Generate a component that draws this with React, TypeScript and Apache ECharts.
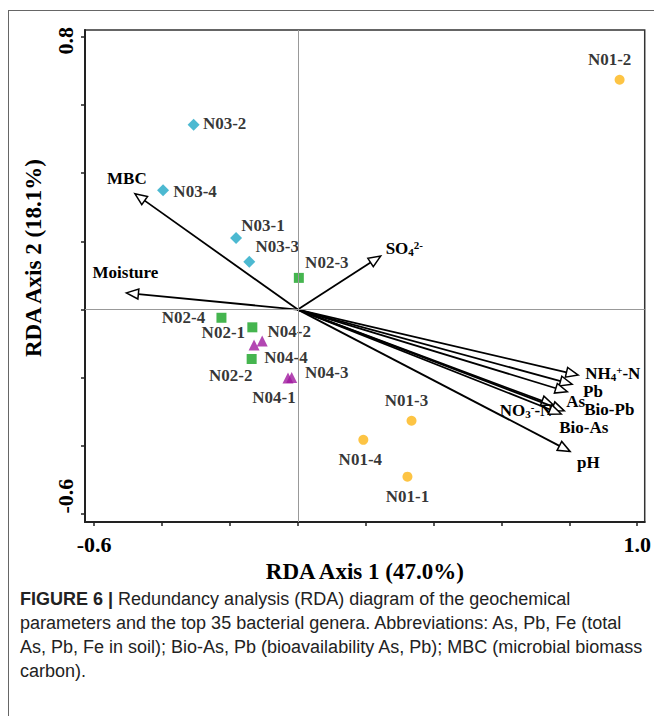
import React, { useEffect, useRef } from 'react';
import * as echarts from 'echarts';

// ---- axis ticks / titles ----
const xTicks = [-0.6, -0.4, -0.2, 0, 0.2, 0.4, 0.6, 0.8, 1.0];
const yTicks = [-0.6, -0.4, -0.2, 0, 0.2, 0.4, 0.6, 0.8];
const xTickLabels = [-0.6, 1.0];
const yTickLabels = [0.8, -0.6];
const xTitle = 'RDA Axis 1 (47.0%)';
const yTitle = 'RDA Axis 2 (18.1%)';

// ---- sample scores ----
const n01Names = ['N01-1', 'N01-2', 'N01-3', 'N01-4'];
const n01X = [0.323, 0.948, 0.335, 0.193];
const n01Y = [-0.49, 0.674, -0.326, -0.382];

const n02Names = ['N02-1', 'N02-2', 'N02-3', 'N02-4'];
const n02X = [-0.134, -0.136, 0.003, -0.225];
const n02Y = [-0.052, -0.145, 0.093, -0.024];

const n03Names = ['N03-1', 'N03-2', 'N03-3', 'N03-4'];
const n03X = [-0.182, -0.307, -0.143, -0.397];
const n03Y = [0.21, 0.542, 0.14, 0.35];

const n04Names = ['N04-1', 'N04-2', 'N04-3', 'N04-4'];
const n04X = [-0.029, -0.105, -0.018, -0.129];
const n04Y = [-0.201, -0.092, -0.199, -0.104];

// ---- environmental vectors ----
const arrowNames = ['MBC', 'Moisture', 'SO4', 'NH4', 'Pb', 'As', 'NO3', 'Bio-Pb', 'Bio-As', 'pH'];
const arrowLabels = [
  'MBC',
  'Moisture',
  '{n|SO}{s|4}{p|2-}',
  '{n|NH}{s|4}{p|+}{n|-N}',
  'Pb',
  'As',
  '{n|NO}{s|3}{p|-}{n|-N}',
  'Bio-Pb',
  'Bio-As',
  'pH',
];
const arrowX = [-0.48, -0.505, 0.244, 0.826, 0.808, 0.794, 0.753, 0.785, 0.776, 0.802];
const arrowY = [0.34, 0.049, 0.157, -0.192, -0.219, -0.241, -0.28, -0.297, -0.306, -0.416];

const caption =
  '{b|FIGURE 6 |} Redundancy analysis (RDA) diagram of the geochemical\n' +
  'parameters and the top 35 bacterial genera. Abbreviations: As, Pb, Fe (total\n' +
  'As, Pb, Fe in soil); Bio-As, Pb (bioavailability As, Pb); MBC (microbial biomass\n' +
  'carbon).';

// ---- layout (label placement, styles) ----
const SERIF = '"Liberation Serif", "Times New Roman", serif';
const SANS = '"Liberation Sans", Arial, sans-serif';
const LABEL_SIZE = 17;
const CAPTION_SIZE = 18;

const pointLabelOffset: Record<string, [number, number]> = {
  'N01-1': [0, 20],
  'N01-2': [-10, -20],
  'N01-3': [-5, -20],
  'N01-4': [-3, 20],
  'N02-1': [-29, 5],
  'N02-2': [-21, 16],
  'N02-3': [28, -15],
  'N02-4': [-38, 0],
  'N03-1': [27, -12],
  'N03-2': [31, -1],
  'N03-3': [28, -15],
  'N03-4': [32, 1],
  'N04-1': [-14, 19],
  'N04-2': [27, -9],
  'N04-3': [35, -5],
  'N04-4': [32, 12],
};

const arrowLabelLayout: Record<string, { dx: number; dy: number; align: string }> = {
  MBC: { dx: -8, dy: -15, align: 'center' },
  Moisture: { dx: -1, dy: -20, align: 'center' },
  SO4: { dx: 5, dy: -8, align: 'left' },
  NH4: { dx: 7, dy: -2, align: 'left' },
  Pb: { dx: 11, dy: 7, align: 'left' },
  As: { dx: -1, dy: 10, align: 'left' },
  NO3: { dx: -1, dy: 5, align: 'right' },
  'Bio-Pb': { dx: 20, dy: -1, align: 'left' },
  'Bio-As': { dx: -2, dy: 14, align: 'left' },
  pH: { dx: 7, dy: 11, align: 'left' },
};

const richChem = {
  n: { fontSize: LABEL_SIZE, fontWeight: 'bold', fontFamily: SERIF, lineHeight: 18, color: '#000' },
  s: { fontSize: 11, fontWeight: 'bold', fontFamily: SERIF, lineHeight: 18, verticalAlign: 'bottom', color: '#000' },
  p: { fontSize: 11, fontWeight: 'bold', fontFamily: SERIF, lineHeight: 18, verticalAlign: 'top', color: '#000' },
};

const pointLabel = {
  show: true,
  position: 'inside',
  formatter: '{b}',
  color: '#000',
  fontFamily: SERIF,
  fontWeight: 'bold',
  fontSize: LABEL_SIZE,
};

function groupData(names: string[], xs: number[], ys: number[]) {
  return names.map((n, i) => ({
    name: n,
    value: [xs[i], ys[i]],
    label: { offset: pointLabelOffset[n] },
  }));
}

export default function App() {
  const ref = useRef<HTMLDivElement>(null);

  useEffect(() => {
    if (!ref.current) return;
    const chart = echarts.init(ref.current, undefined, { renderer: 'svg' });

    const option: any = {
      animation: false,
      backgroundColor: '#fff',
      grid: {
        left: 85,
        right: 6,
        top: 30,
        bottom: 194,
        show: true,
        borderColor: '#333',
        borderWidth: 1.5,
        backgroundColor: 'transparent',
      },
      xAxis: {
        type: 'value',
        min: -0.627,
        max: 1.022,
        name: xTitle,
        nameLocation: 'middle',
        nameGap: 37,
        nameTextStyle: { fontFamily: SERIF, fontWeight: 'bold', fontSize: 23, color: '#000' },
        axisLine: { show: true, onZero: false, lineStyle: { color: '#222', width: 2 } },
        axisTick: { show: true, customValues: xTicks, length: 4, lineStyle: { color: '#222', width: 1.5 } },
        axisLabel: {
          show: true,
          customValues: xTickLabels,
          formatter: (v: number) => v.toFixed(1),
          margin: 11,
          fontFamily: SERIF,
          fontWeight: 'bold',
          fontSize: 22,
          color: '#000',
        },
        splitLine: { show: false },
      },
      yAxis: {
        type: 'value',
        min: -0.623,
        max: 0.82,
        name: yTitle,
        nameLocation: 'middle',
        nameGap: 40,
        nameTextStyle: {
          fontFamily: SERIF,
          fontWeight: 'bold',
          fontSize: 23,
          color: '#000',
          padding: [0, 0, 0, 36],
        },
        axisLine: { show: true, onZero: false, lineStyle: { color: '#222', width: 2 } },
        axisTick: { show: true, customValues: yTicks, length: 4, lineStyle: { color: '#222', width: 1.5 } },
        axisLabel: {
          show: true,
          customValues: yTickLabels,
          rotate: 90,
          margin: 9,
          formatter: (v: number) => (v > 0 ? `{t|${v.toFixed(1)}}` : `{b|${v.toFixed(1)}}`),
          rich: {
            t: { fontFamily: SERIF, fontWeight: 'bold', fontSize: 22, color: '#000', padding: [0, 8, 0, 0] },
            b: { fontFamily: SERIF, fontWeight: 'bold', fontSize: 22, color: '#000', padding: [0, 0, 0, 36] },
          },
        },
        splitLine: { show: false },
      },
      series: [
        {
          type: 'custom',
          name: 'vectors',
          z: 2,
          clip: false,
          data: arrowX.map((x, i) => [x, arrowY[i]]),
          renderItem: (params: any, api: any) => {
            const idx = params.dataIndex;
            const x = api.value(0);
            const y = api.value(1);
            const o = api.coord([0, 0]);
            const t = api.coord([x, y]);
            const dx = t[0] - o[0];
            const dy = t[1] - o[1];
            const len = Math.hypot(dx, dy) || 1;
            const ux = dx / len;
            const uy = dy / len;
            const nx = -uy;
            const ny = ux;
            const L = 12;
            const W = 5;
            const bx = t[0] - ux * L;
            const by = t[1] - uy * L;
            const lay = arrowLabelLayout[arrowNames[idx]];
            return {
              type: 'group',
              children: [
                {
                  type: 'line',
                  shape: { x1: o[0], y1: o[1], x2: bx, y2: by },
                  style: { stroke: '#000', lineWidth: 1.8 },
                },
                {
                  type: 'polygon',
                  shape: {
                    points: [
                      [t[0], t[1]],
                      [bx + nx * W, by + ny * W],
                      [bx - nx * W, by - ny * W],
                    ],
                  },
                  style: { fill: '#fff', stroke: '#000', lineWidth: 1.5 },
                },
                {
                  type: 'text',
                  x: t[0] + lay.dx,
                  y: t[1] + lay.dy,
                  style: {
                    text: arrowLabels[idx],
                    align: lay.align,
                    verticalAlign: 'middle',
                    fill: '#000',
                    fontSize: LABEL_SIZE,
                    fontWeight: 'bold',
                    fontFamily: SERIF,
                    rich: richChem,
                  },
                },
              ],
            };
          },
        },
        {
          type: 'scatter',
          name: 'N01',
          z: 3,
          symbol: 'circle',
          symbolSize: 10,
          itemStyle: { color: '#FDB515' },
          label: pointLabel,
          data: groupData(n01Names, n01X, n01Y),
          markLine: {
            silent: true,
            symbol: 'none',
            label: { show: false },
            lineStyle: { color: '#999', width: 1, type: 'solid' },
            data: [{ xAxis: 0 }, { yAxis: 0 }],
          },
        },
        {
          type: 'scatter',
          name: 'N02',
          z: 3,
          symbol: 'rect',
          symbolSize: 10,
          itemStyle: { color: '#17A323' },
          label: pointLabel,
          data: groupData(n02Names, n02X, n02Y),
        },
        {
          type: 'scatter',
          name: 'N03',
          z: 3,
          symbol: 'diamond',
          symbolSize: 12,
          itemStyle: { color: '#1FA7C6' },
          label: pointLabel,
          data: groupData(n03Names, n03X, n03Y),
        },
        {
          type: 'scatter',
          name: 'N04',
          z: 3,
          symbol: 'triangle',
          symbolSize: 11,
          itemStyle: { color: '#A0199F' },
          label: pointLabel,
          data: groupData(n04Names, n04X, n04Y),
        },
      ],
      graphic: [
        { type: 'line', shape: { x1: 8, y1: 10.5, x2: 654, y2: 10.5 }, style: { stroke: '#666', lineWidth: 1 } },
        { type: 'line', shape: { x1: 8.5, y1: 10, x2: 8.5, y2: 716 }, style: { stroke: '#666', lineWidth: 1 } },
        {
          type: 'text',
          left: 20,
          top: 587,
          style: {
            text: caption,
            fontFamily: SANS,
            fontSize: CAPTION_SIZE,
            lineHeight: 24,
            fill: '#222',
            rich: {
              b: { fontFamily: SANS, fontSize: CAPTION_SIZE, fontWeight: 'bold', lineHeight: 24, color: '#222' },
            },
          },
        },
      ],
    };

    chart.setOption(option);
    return () => chart.dispose();
  }, []);

  return (
    <div
      ref={ref}
      style={{ position: 'fixed', left: 0, top: 0, width: 654, height: 716, background: '#fff' }}
    />
  );
}
